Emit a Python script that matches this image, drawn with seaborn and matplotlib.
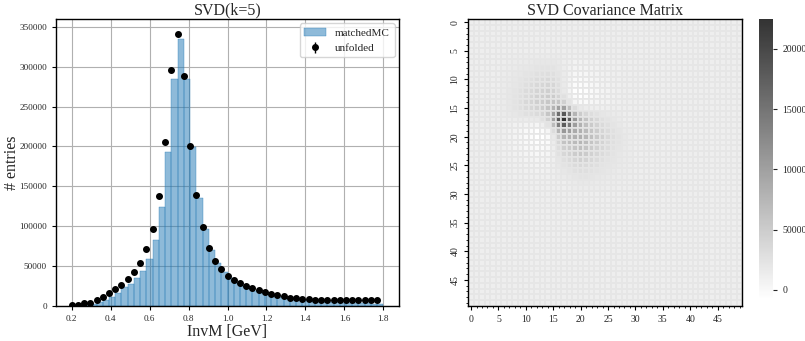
import numpy as np
import pandas as pd
import matplotlib
matplotlib.use("Agg")
import matplotlib.pyplot as plt
import seaborn as sns

# ---------------- data ----------------
bin_edges = np.linspace(0.2, 1.8, 51)

matched_mc = [0, 300, 1300, 2100, 4200, 7100, 11300, 15500, 23500, 27200,
              35000, 43600, 58700, 82600, 124000, 193000, 285000, 335000, 285000, 199000,
              135400, 96400, 70000, 53200, 42000, 34400, 29000, 25000, 22000, 19000,
              16500, 14500, 13000, 11500, 10000, 9000, 8000, 7000, 6300, 5700,
              5200, 4800, 4400, 4000, 3700, 3400, 3100, 2900, 2700, 2500]

unfolded = [400, 500, 3400, 3400, 7100, 10900, 15500, 20500, 26400, 33500,
            42300, 54000, 70800, 96400, 138300, 206000, 296000, 341000, 288000, 201000,
            138500, 98500, 72500, 56200, 45700, 37700, 31900, 28500, 24300, 21800,
            19700, 16800, 15100, 13800, 11700, 10100, 9600, 8800, 8000, 7500,
            7100, 7000, 6900, 6900, 6800, 6900, 7000, 7000, 7100, 7100]

# covariance matrix read as: constant floor + three correlated modes
cov_floor = 12000
mode_peak = ([0]*13 + [20, 60, 180, 360, 460, 360, 220, 150, 110, 80, 60, 40, 28, 18, 10]
             + [0]*22)
mode_shoulder = ([0]*6 + [20, 40, 65, 90, 120, 145, 170, 190, 200, 185, 125, 30,
                  -50, -105, -115, -100, -80, -60, -45, -30, -20, -10] + [0]*22)
mode_tail = ([0]*18 + [50, 130, 190, 185, 165, 140, 115, 90, 70, 50, 35, 20] + [0]*20)

mp = np.array(mode_peak, float)
ms = np.array(mode_shoulder, float)
mt = np.array(mode_tail, float)
cov = cov_floor + np.outer(mp, mp) + np.outer(ms, ms) + np.outer(mt, mt)
yerr = np.sqrt(np.clip(np.diag(cov), 0, None))

# ---------------- figure ----------------
sns.set_style("ticks")
plt.rcParams["font.family"] = ["Liberation Serif", "DejaVu Serif"]

W, H = 805, 341
fig = plt.figure(figsize=(W/100, H/100), dpi=100)

ax1 = fig.add_axes([56/W, 1-305.7/H, 343/W, 286.7/H])
ax2 = fig.add_axes([468.3/W, 1-305.7/H, 274/W, 286.4/H])
cax = fig.add_axes([759.3/W, 1-299/H, 14/W, 279.7/H])

centers = 0.5*(bin_edges[:-1] + bin_edges[1:])
df = pd.DataFrame({"InvM": centers, "w": matched_mc})
sns.histplot(data=df, x="InvM", weights="w", bins=50, binrange=(0.2, 1.8), ax=ax1,
             color="#1f77b4", alpha=0.5, edgecolor="#1f77b4", linewidth=0.25,
             label="matchedMC")
ax1.errorbar(bin_edges[:-1], unfolded, yerr=yerr, fmt="o", color="black",
             markersize=4, elinewidth=1, label="unfolded", zorder=5)

ax1.set_xlim(0.12, 1.88)
ax1.set_ylim(0, 360000)
ax1.set_xticks(np.arange(0.2, 1.81, 0.2))
ax1.set_xticklabels([f"{v:.1f}" for v in np.arange(0.2, 1.81, 0.2)])
ax1.set_yticks(np.arange(0, 350001, 50000))
ax1.tick_params(labelsize=6.6, length=3, width=0.8, color="black")
ax1.grid(True, color="#b0b0b0", linewidth=0.8)
ax1.set_axisbelow(True)
for s in ax1.spines.values():
    s.set_visible(True)
    s.set_color("black")
    s.set_linewidth(1.0)
ax1.set_title("SVD(k=5)", fontsize=11.5, pad=3)
ax1.set_xlabel("InvM [GeV]", fontsize=11.5, labelpad=1)
ax1.set_ylabel("# entries", fontsize=11.5)
ax1.yaxis.set_label_coords(-0.106, 0.5)
ax1.legend(loc="upper right", fontsize=8, frameon=True, fancybox=True,
           framealpha=0.8, edgecolor="#cccccc", borderaxespad=0.4)

sns.heatmap(cov, ax=ax2, cbar_ax=cax, cmap="binary", alpha=0.8,
            xticklabels=5, yticklabels=5, linewidths=0.3, linecolor="#e6e6e6")
ax2.set_title("SVD Covariance Matrix", fontsize=11.5, pad=3)
ax2.tick_params(labelsize=7, length=3, width=0.8, color="black")
ax2.set_xticks(np.arange(50) + 0.5, minor=True)
ax2.set_yticks(np.arange(50) + 0.5, minor=True)
ax2.tick_params(which="minor", length=1.5, width=0.6, color="black")
plt.setp(ax2.get_xticklabels(), rotation=0)
plt.setp(ax2.get_yticklabels(), rotation=90, va="center")
for s in ax2.spines.values():
    s.set_visible(True)
    s.set_color("black")
    s.set_linewidth(1.0)
cax.tick_params(labelsize=7, length=3, width=0.8)
cax.set_yticks([0, 50000, 100000, 150000, 200000])
for s in cax.spines.values():
    s.set_visible(False)

fig.savefig("out.png", dpi=100)
